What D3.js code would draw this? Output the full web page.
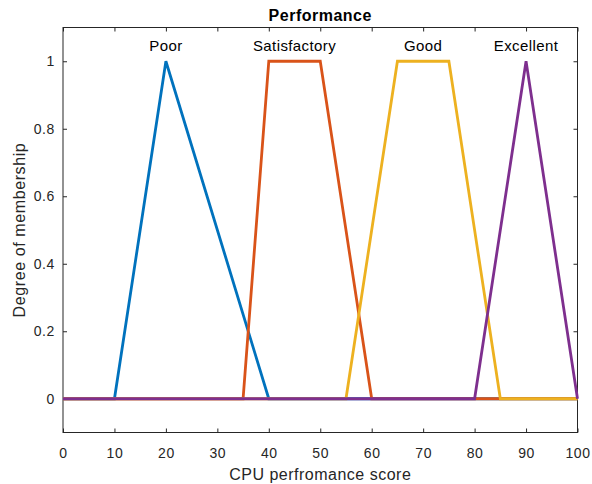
<!DOCTYPE html>
<html>
<head>
<meta charset="utf-8">
<script src="https://cdn.jsdelivr.net/npm/d3@7"></script>
<style>
  html, body { margin: 0; padding: 0; background: #fff; }
  svg { display: block; font-family: "Liberation Sans", Arial, Helvetica, sans-serif; }
</style>
</head>
<body>
<svg id="chart" width="592" height="484"></svg>
<script>
// Membership function breakpoints (score vs. degree of membership)
const setNames = ["Poor", "Satisfactory", "Good", "Excellent"];
const setColors = ["#0072BD", "#D95319", "#EDB120", "#7E2F8E"];
const poorX = [0, 10, 20, 40, 100];
const poorY = [0, 0, 1, 0, 0];
const satisfactoryX = [0, 35, 40, 50, 60, 100];
const satisfactoryY = [0, 0, 1, 1, 0, 0];
const goodX = [0, 55, 65, 75, 85, 100];
const goodY = [0, 0, 1, 1, 0, 0];
const excellentX = [0, 80, 90, 100];
const excellentY = [0, 0, 1, 0];
const labelX = [20, 45, 70, 90];
const xTicks = [0, 10, 20, 30, 40, 50, 60, 70, 80, 90, 100];
const yTicks = [0, 0.2, 0.4, 0.6, 0.8, 1];

const series = [
  { xs: poorX, ys: poorY },
  { xs: satisfactoryX, ys: satisfactoryY },
  { xs: goodX, ys: goodY },
  { xs: excellentX, ys: excellentY }
];

const svg = d3.select("#chart");
const plotLeft = 63, plotRight = 577.5, plotTop = 27.5, plotBottom = 432.5;
const x = d3.scaleLinear().domain([0, 100]).range([plotLeft, plotRight]);
const y = d3.scaleLinear().domain([-0.1, 1.1]).range([plotBottom, plotTop]);
const axisColor = "#262626";
const tickLen = 4;

// Axes box
svg.append("rect")
  .attr("x", plotLeft).attr("y", plotTop)
  .attr("width", plotRight - plotLeft).attr("height", plotBottom - plotTop)
  .attr("fill", "none").attr("stroke", axisColor).attr("stroke-width", 1);

// Bottom axis with inward ticks
const xAxis = svg.append("g").attr("transform", `translate(0,${plotBottom})`)
  .call(d3.axisBottom(x).tickValues(xTicks).tickSizeInner(-tickLen).tickSizeOuter(0).tickPadding(16));
// Top ticks (no labels)
const xAxisTop = svg.append("g").attr("transform", `translate(0,${plotTop})`)
  .call(d3.axisTop(x).tickValues(xTicks).tickSizeInner(-tickLen).tickSizeOuter(0).tickFormat(""));
// Left axis with inward ticks
const yAxis = svg.append("g").attr("transform", `translate(${plotLeft},0)`)
  .call(d3.axisLeft(y).tickValues(yTicks).tickSizeInner(-tickLen).tickSizeOuter(0).tickPadding(8)
    .tickFormat(d => d3.format("~g")(d)));
// Right ticks (no labels)
const yAxisRight = svg.append("g").attr("transform", `translate(${plotRight},0)`)
  .call(d3.axisRight(y).tickValues(yTicks).tickSizeInner(-tickLen).tickSizeOuter(0).tickFormat(""));

[xAxis, xAxisTop, yAxis, yAxisRight].forEach(g => {
  g.select(".domain").remove();
  g.selectAll(".tick line").attr("stroke", axisColor);
  g.selectAll(".tick text").attr("fill", axisColor).style("font-size", "14px")
    .style("letter-spacing", "0.6px")
    .style("font-family", "'Liberation Sans', Arial, sans-serif");
});

// Membership curves
const line = d3.line().x(d => x(d[0])).y(d => y(d[1]));
series.forEach((s, i) => {
  const pts = s.xs.map((v, k) => [v, s.ys[k]]);
  svg.append("path")
    .datum(pts)
    .attr("d", line)
    .attr("fill", "none")
    .attr("stroke", setColors[i])
    .attr("stroke-width", 2.8)
    .attr("stroke-linejoin", "miter");
});

// Set names above each peak
svg.selectAll(".setlabel")
  .data(setNames)
  .enter().append("text")
  .attr("class", "setlabel")
  .attr("x", (d, i) => x(labelX[i]))
  .attr("y", 51)
  .attr("text-anchor", "middle")
  .attr("fill", "#000")
  .style("font-size", "15px")
  .style("letter-spacing", "0.4px")
  .text(d => d);

// Title
svg.append("text")
  .attr("x", (plotLeft + plotRight) / 2).attr("y", 21)
  .attr("text-anchor", "middle")
  .style("font-size", "16px").style("font-weight", "bold")
  .style("letter-spacing", "0.5px")
  .attr("fill", "#000")
  .text("Performance");

// Axis titles
svg.append("text")
  .attr("x", (plotLeft + plotRight) / 2).attr("y", 480)
  .attr("text-anchor", "middle")
  .style("font-size", "16px")
  .style("letter-spacing", "0.5px")
  .attr("fill", axisColor)
  .text("CPU perfromance score");

svg.append("text")
  .attr("transform", `translate(25,${(plotTop + plotBottom) / 2}) rotate(-90)`)
  .attr("text-anchor", "middle")
  .style("font-size", "16px")
  .style("letter-spacing", "0.6px")
  .attr("fill", axisColor)
  .text("Degree of membership");
</script>
</body>
</html>
